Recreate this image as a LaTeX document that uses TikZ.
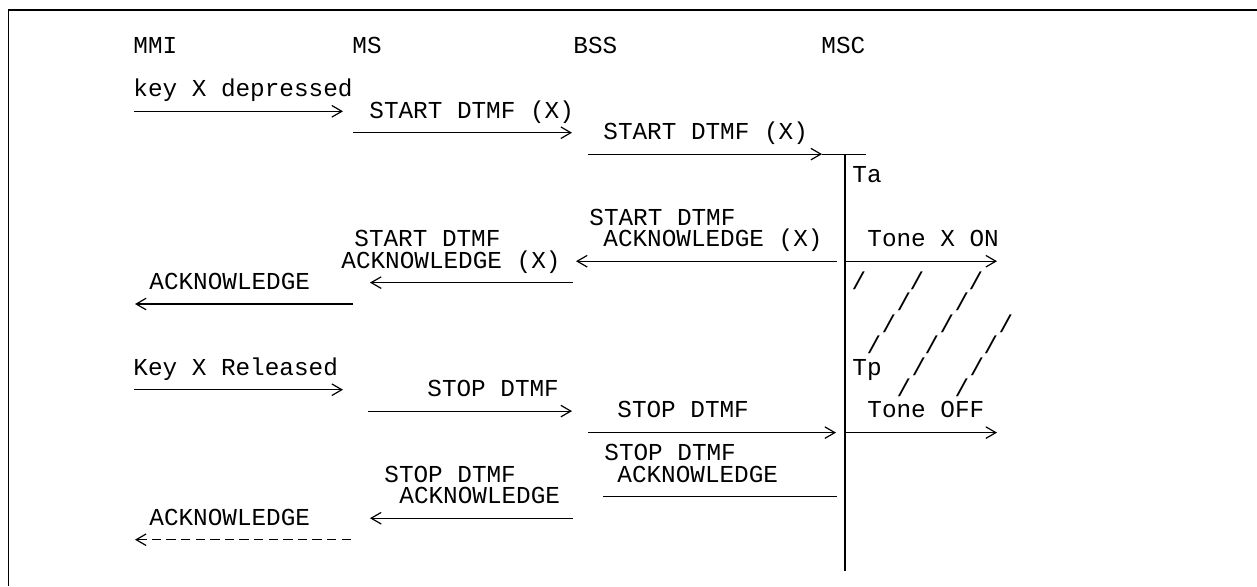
\documentclass[tikz,border=0pt]{standalone}
\usepackage{fontspec}
\setmonofont{Liberation Mono}
\usetikzlibrary{arrows.meta}

\tikzset{
  lbl/.style={anchor=base west,inner sep=0pt,yshift=-3.4pt,
    font=\ttfamily\fontsize{12.17}{14}\selectfont},
  hatch/.style={lbl,anchor=base},
  msg/.style={line width=0.6pt,
    -{Straight Barb[length=5pt,width=5.8pt,line width=0.6pt]}},
  msgdash/.style={msg,dash pattern=on 4.75pt off 2.55pt},
  plain/.style={line width=0.6pt},
  timer/.style={line width=1pt}
}

\begin{document}
\begin{tikzpicture}[x=0.5pt,y=-0.5pt]

\useasboundingbox (0,0) rectangle (1257,586);

% frame
\coordinate (frame-tr) at (1257,10);
\coordinate (frame-tl) at (8.5,10);
\coordinate (frame-bl) at (8.5,586);
\draw[line width=0.8pt] (frame-tr) -- (frame-tl) -- (frame-bl);

%------------------------------------------------
% Entities
%------------------------------------------------
\node[lbl] (mmi) at (133,47) {MMI};
\node[lbl] (ms)  at (352,47) {MS};
\node[lbl] (bss) at (573,47) {BSS};
\node[lbl] (msc) at (821,47) {MSC};

%------------------------------------------------
% Key depressed: START DTMF
%------------------------------------------------
\node[lbl] (keydown) at (133,89.8) {key X depressed};
\coordinate (kd-a) at (134,111.3);
\coordinate (kd-b) at (343,111.3);
\draw[msg] (kd-a) -- (kd-b);

\node[lbl] (start-ms) at (369,111.3) {START DTMF (X)};
\coordinate (sm-a) at (353,132.7);
\coordinate (sm-b) at (572,132.7);
\draw[msg] (sm-a) -- (sm-b);

\node[lbl] (start-bss) at (603,132.7) {START DTMF (X)};
\coordinate (sb-a) at (588,154.1);
\coordinate (sb-b) at (822,154.1);
\draw[msg] (sb-a) -- (sb-b);

% MSC timer bar
\coordinate (bar-l) at (822,154.1);
\coordinate (bar-r) at (866,154.1);
\coordinate (bar-top) at (844.5,154.1);
\coordinate (bar-bot) at (844.5,571);
\draw[plain] (bar-l) -- (bar-r);
\draw[timer] (bar-top) -- (bar-bot);
\node[lbl] (ta) at (852,175.5) {Ta};

%------------------------------------------------
% Acknowledge
%------------------------------------------------
\node[lbl] (ack-msc1) at (589,218.4) {START DTMF};
\node[lbl] (ack-msc2) at (603,239.8) {ACKNOWLEDGE (X)};
\coordinate (am-a) at (837,261.2);
\coordinate (am-b) at (576,261.2);
\draw[msg] (am-a) -- (am-b);

\node[lbl] (tone-on) at (867,239.8) {Tone X ON};
\coordinate (on-a) at (845,261.2);
\coordinate (on-b) at (997,261.2);
\draw[msg] (on-a) -- (on-b);

\node[lbl] (ack-bss1) at (354,239.8) {START DTMF};
\node[lbl] (ack-bss2) at (341,261.2) {ACKNOWLEDGE (X)};
\coordinate (ab-a) at (573,282.6);
\coordinate (ab-b) at (370,282.6);
\draw[msg] (ab-a) -- (ab-b);

\node[lbl] (ack-ms) at (149,282.6) {ACKNOWLEDGE};
\coordinate (ak-a) at (353,304.0);
\coordinate (ak-b) at (135,304.0);
\draw[msg] (ak-a) -- (ak-b);

% tone hatching
\foreach \hx/\hy [count=\i] in {859/282.6,917/282.6,976/282.6,
    904/304.0,962/304.0,
    889/325.5,947/325.5,1006/325.5,
    874/346.9,932/346.9,991/346.9,
    919/368.3,977/368.3,
    904/389.7,962/389.7}
  \node[hatch] (h\i) at (\hx,\hy) {/};

\node[lbl] (tp) at (852,368.3) {Tp};

%------------------------------------------------
% Key released: STOP DTMF
%------------------------------------------------
\node[lbl] (keyup) at (133,368.3) {Key X Released};
\coordinate (ku-a) at (134,389.7);
\coordinate (ku-b) at (343,389.7);
\draw[msg] (ku-a) -- (ku-b);

\node[lbl] (stop-ms) at (427,389.7) {STOP DTMF};
\coordinate (pm-a) at (368,411.1);
\coordinate (pm-b) at (572,411.1);
\draw[msg] (pm-a) -- (pm-b);

\node[lbl] (stop-bss) at (617,411.1) {STOP DTMF};
\coordinate (pb-a) at (588,432.6);
\coordinate (pb-b) at (836,432.6);
\draw[msg] (pb-a) -- (pb-b);

\node[lbl] (tone-off) at (867,411.1) {Tone OFF};
\coordinate (off-a) at (845,432.6);
\coordinate (off-b) at (997,432.6);
\draw[msg] (off-a) -- (off-b);

%------------------------------------------------
% Stop acknowledge
%------------------------------------------------
\node[lbl] (sack-msc1) at (604,454.0) {STOP DTMF};
\node[lbl] (sack-msc2) at (617,475.4) {ACKNOWLEDGE};
\coordinate (sm2-a) at (837,496.8);
\coordinate (sm2-b) at (603,496.8);
\draw[plain] (sm2-a) -- (sm2-b);

\node[lbl] (sack-bss1) at (384,475.4) {STOP DTMF};
\node[lbl] (sack-bss2) at (399,496.8) {ACKNOWLEDGE};
\coordinate (sb2-a) at (573,518.2);
\coordinate (sb2-b) at (370,518.2);
\draw[msg] (sb2-a) -- (sb2-b);

\node[lbl] (sack-ms) at (149,518.2) {ACKNOWLEDGE};
\coordinate (sk-a) at (351,539.7);
\coordinate (sk-b) at (135,539.7);
\draw[msgdash] (sk-a) -- (sk-b);

\end{tikzpicture}
\end{document}
